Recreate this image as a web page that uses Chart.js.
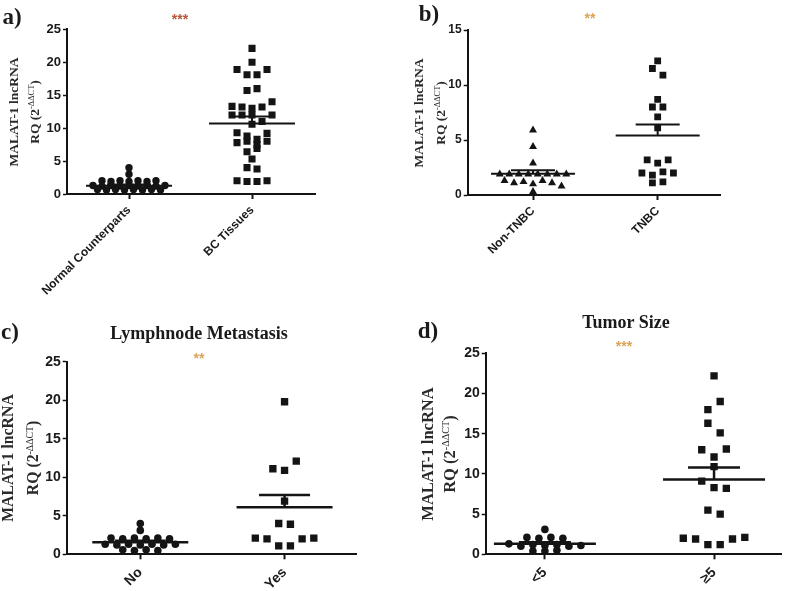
<!DOCTYPE html>
<html><head><meta charset="utf-8">
<script src="https://cdn.jsdelivr.net/npm/chart.js@4.4.1/dist/chart.umd.min.js"></script>
<style>
html,body{margin:0;padding:0;background:#fff;width:791px;height:591px;overflow:hidden}
canvas{position:absolute;left:0;top:0;pointer-events:none}
.t{position:absolute;white-space:nowrap;transform:translate(-50%,-50%);color:#1a1a1a}
.lab{font-family:"Liberation Serif","Times New Roman",serif;font-weight:bold;line-height:1}
.star{font-family:"Liberation Sans",Arial,sans-serif;font-weight:bold;line-height:14px;font-size:14px}
.yt{font-family:"Liberation Serif","Times New Roman",serif;font-weight:bold;text-align:center;color:#2a2a2a}
.yt sup{font-size:62%;font-weight:normal;line-height:0;vertical-align:0.55em}
</style></head>
<body>
<canvas id="ca" width="791" height="591"></canvas>
<canvas id="cb" width="791" height="591"></canvas>
<canvas id="cc" width="791" height="591"></canvas>
<canvas id="cd" width="791" height="591"></canvas>

<div class="t lab" style="left:12px;top:16px;font-size:23px">a)</div>
<div class="t lab" style="left:429px;top:13px;font-size:23px">b)</div>
<div class="t lab" style="left:10px;top:331px;font-size:23px">c)</div>
<div class="t lab" style="left:428px;top:330px;font-size:23px">d)</div>

<div class="t lab" style="left:199px;top:333px;font-size:18px">Lymphnode Metastasis</div>
<div class="t lab" style="left:626px;top:322px;font-size:18px">Tumor Size</div>

<div class="t star" style="left:180px;top:19px;color:#b8583c">***</div>
<div class="t star" style="left:590px;top:18px;color:#dba458">**</div>
<div class="t star" style="left:199px;top:358px;color:#dba458">**</div>
<div class="t star" style="left:624px;top:346px;color:#dba458">***</div>

<div class="t yt" style="left:23.5px;top:112px;font-size:13.5px;line-height:21px;transform:translate(-50%,-50%) rotate(-90deg)">MALAT-1 lncRNA<br>RQ (2<sup>-ΔΔCT</sup>)</div>
<div class="t yt" style="left:429.5px;top:112.5px;font-size:13.5px;line-height:22px;transform:translate(-50%,-50%) rotate(-90deg)">MALAT-1 lncRNA<br>RQ (2<sup>-ΔΔCT</sup>)</div>
<div class="t yt" style="left:19.5px;top:458px;font-size:15.8px;line-height:25px;transform:translate(-50%,-50%) rotate(-90deg)">MALAT-1 lncRNA<br>RQ (2<sup>-ΔΔCT</sup>)</div>
<div class="t yt" style="left:439px;top:453.5px;font-size:16.5px;line-height:22px;transform:translate(-50%,-50%) rotate(-90deg)">MALAT-1 lncRNA<br>RQ (2<sup>-ΔΔCT</sup>)</div>

<script>
// ---------- data ----------
const catsA = ['Normal Counterparts', 'BC Tissues'];
const yTicksA = [0, 5, 10, 15, 20, 25];
const normalA = [4.0, 3.0, 2.0, 1.9, 2.0, 1.9, 2.0, 1.9, 2.0, 1.3, 1.2, 1.3, 1.2, 1.3, 1.2, 1.3, 1.2, 1.3, 0.7, 0.6, 0.7, 0.6, 0.7, 0.6, 0.7, 0.6];
const bcA = [22.1, 20.0, 18.9, 18.1, 18.1, 18.9, 15.7, 16.0, 13.3, 13.2, 13.0, 13.2, 14.0, 12.0, 12.0, 12.0, 11.0, 12.0, 10.6, 9.3, 8.8, 8.3, 9.2, 7.8, 8.0, 7.5, 8.0, 6.4, 6.9, 5.3, 4.0, 3.8, 2.0, 1.9, 1.9, 2.0];
const meanA = [1.26, 10.7];
const semUpA = [1.45, 11.75];

const catsB = ['Non-TNBC', 'TNBC'];
const yTicksB = [0, 5, 10, 15];
const nonTnbcB = [5.9, 4.4, 2.9, 1.9, 1.9, 1.9, 1.9, 1.9, 1.9, 1.9, 1.9, 1.3, 1.1, 1.2, 1.0, 1.3, 1.1, 0.8, 0.3];
const tnbcB = [12.2, 11.5, 10.9, 8.7, 8.0, 8.0, 7.1, 6.1, 3.2, 2.9, 3.2, 2.0, 1.8, 2.1, 2.0, 1.1, 1.2];
const meanB = [1.94, 5.4];
const semUpB = [2.25, 6.4];

const catsC = ['No', 'Yes'];
const yTicksC = [0, 5, 10, 15, 20, 25];
const noC = [4.0, 3.1, 2.1, 2.0, 2.1, 2.0, 2.1, 2.0, 1.3, 1.2, 1.3, 1.2, 1.3, 1.2, 1.3, 0.6, 0.5, 0.6, 0.5];
const yesC = [19.8, 11.1, 10.9, 12.1, 6.9, 4.0, 3.9, 2.1, 2.0, 1.1, 1.1, 2.0, 2.1];
const meanC = [1.56, 6.1];
const semUpC = [1.75, 7.7];

const catsD = ['<5', '≥5'];
const yTicksD = [0, 5, 10, 15, 20, 25];
const lt5D = [3.1, 2.1, 2.0, 2.1, 2.0, 1.3, 1.0, 1.2, 1.1, 1.2, 1.0, 1.1, 0.4, 0.4, 0.5];
const ge5D = [22.2, 18.0, 19.0, 16.3, 15.1, 13.0, 12.1, 13.1, 10.9, 9.1, 8.3, 8.2, 5.5, 5.0, 2.0, 1.9, 1.2, 1.2, 1.9, 2.1];
const meanD = [1.3, 9.3];
const semUpD = [1.5, 10.8];

// ---------- drawing ----------
const W = 791, H = 591, INK = '#141414';

const meanSem = {
  id: 'meanSem',
  afterDatasetsDraw(chart, args, o) {
    const {ctx, scales: {x, y}} = chart;
    ctx.save();
    ctx.strokeStyle = INK; ctx.lineWidth = o.lw; ctx.lineCap = 'butt';
    o.means.forEach((m, i) => {
      const cx = x.getPixelForValue(i + 1);
      const ym = y.getPixelForValue(m), yu = y.getPixelForValue(o.ups[i]);
      ctx.beginPath();
      ctx.moveTo(cx - o.long, ym); ctx.lineTo(cx + o.long, ym);
      ctx.moveTo(cx - o.short, yu); ctx.lineTo(cx + o.short, yu);
      ctx.moveTo(cx, ym); ctx.lineTo(cx, yu);
      ctx.stroke();
    });
    ctx.restore();
  }
};

// beeswarm-like spreading: values closer than tol pixels share a row, spread symmetrically
function spread(chart, groups, spacing, tol) {
  const xs = chart.scales.x, ys = chart.scales.y;
  chart.data.datasets.forEach((ds, gi) => {
    const vals = groups[gi];
    const cx = xs.getPixelForValue(gi + 1);
    const idx = vals.map((v, i) => i).sort((a, b) => vals[b] - vals[a]);
    const rows = []; let cur = null;
    idx.forEach(i => {
      const py = ys.getPixelForValue(vals[i]);
      if (!cur || py - cur.p0 > tol[gi]) { cur = {p0: py, m: []}; rows.push(cur); }
      cur.m.push(i);
    });
    const pts = new Array(vals.length);
    rows.forEach(r => {
      r.m.sort((a, b) => a - b);
      const n = r.m.length;
      r.m.forEach((i, k) => {
        pts[i] = {x: xs.getValueForPixel(cx + (k - (n - 1) / 2) * spacing[gi]), y: vals[i]};
      });
    });
    ds.data = pts;
  });
  chart.update('none');
}

function panel(id, o) {
  const chart = new Chart(document.getElementById(id), {
    type: 'scatter',
    data: {datasets: o.groups.map((g, gi) => ({
      data: g.map(v => ({x: gi + 1, y: v})),
      pointStyle: o.styles[gi], pointRadius: o.radii[gi],
      backgroundColor: INK, borderColor: INK, borderWidth: 0
    }))},
    options: {
      responsive: false, animation: false, events: [],
      layout: {padding: {left: 0, top: o.area[1], right: W - o.area[2], bottom: 0}},
      plugins: {legend: {display: false}, tooltip: {enabled: false},
        meanSem: {means: o.means, ups: o.ups, long: o.long, short: o.short, lw: o.lw}},
      scales: {
        x: {type: 'linear', min: o.xr[0], max: o.xr[1],
          afterBuildTicks: s => { s.ticks = o.cats.map((c, i) => ({value: i + 1})); },
          afterFit: s => { s.height = H - o.area[3]; s.paddingLeft = 0; s.paddingRight = 0; },
          ticks: {autoSkip: false, minRotation: 45, maxRotation: 45, padding: o.xpad, color: '#1a1a1a',
            font: {family: 'Liberation Sans', weight: 'bold', size: o.xfs},
            callback: v => o.cats[Math.round(v) - 1]},
          grid: {drawOnChartArea: false, drawTicks: true, tickLength: 5, tickWidth: 2, tickColor: INK},
          border: {display: true, color: INK, width: 2}},
        y: {min: 0, max: o.yt[o.yt.length - 1],
          afterBuildTicks: s => { s.ticks = o.yt.map(v => ({value: v})); },
          afterFit: s => { s.width = o.area[0]; s.paddingTop = 0; s.paddingBottom = 0; },
          ticks: {padding: 2, color: '#1a1a1a', font: {family: 'Liberation Sans', weight: 'bold', size: o.yfs},
            callback: v => String(v)},
          grid: {drawOnChartArea: false, drawTicks: true, tickLength: 4, tickWidth: 1.5, tickColor: INK},
          border: {display: true, color: INK, width: 2}}
      }
    },
    plugins: [meanSem]
  });
  spread(chart, o.groups, o.spacing, o.tol);
}

panel('ca', {cats: catsA, yt: yTicksA, groups: [normalA, bcA], means: meanA, ups: semUpA,
  styles: ['circle', 'rect'], radii: [3.7, 5], spacing: [9, 10], tol: [3.5, 7],
  area: [67, 29.3, 315, 194], xr: [0.496, 2.512], xfs: 12, yfs: 13, xpad: 4,
  long: 43, short: 22, lw: 2});
panel('cb', {cats: catsB, yt: yTicksB, groups: [nonTnbcB, tnbcB], means: meanB, ups: semUpB,
  styles: ['triangle', 'rect'], radii: [4.6, 4.8], spacing: [9.5, 10.5], tol: [6, 7],
  area: [467.7, 30, 720, 195], xr: [0.476, 2.5], xfs: 12, yfs: 12, xpad: 4,
  long: 42, short: 22, lw: 2});
panel('cc', {cats: catsC, yt: yTicksC, groups: [noC, yesC], means: meanC, ups: semUpC,
  styles: ['circle', 'rect'], radii: [3.8, 5.2], spacing: [11.7, 11.7], tol: [4, 9.5],
  area: [66.7, 361.7, 356.7, 554.3], xr: [0.49, 2.5], xfs: 14, yfs: 14, xpad: 5,
  long: 48, short: 25.5, lw: 2.5});
panel('cd', {cats: catsD, yt: yTicksD, groups: [lt5D, ge5D], means: meanD, ups: semUpD,
  styles: ['circle', 'rect'], radii: [3.8, 5.2], spacing: [12, 12.3], tol: [4, 10],
  area: [485.7, 353.3, 781.7, 554.3], xr: [0.65, 2.4], xfs: 14, yfs: 14, xpad: 5,
  long: 51, short: 26, lw: 2.5});
</script>
</body></html>
